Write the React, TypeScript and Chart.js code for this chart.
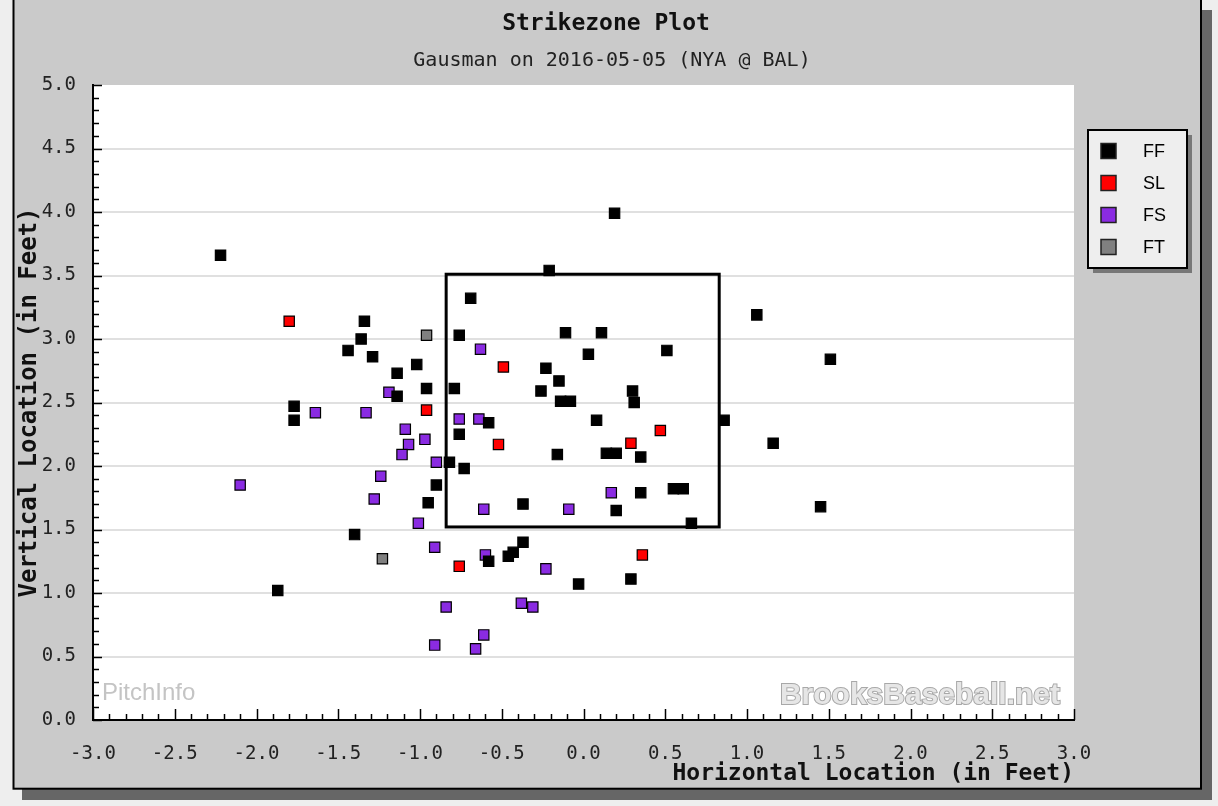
import { useEffect, useRef } from "react";
import { Chart, registerables } from "chart.js";

Chart.register(...registerables);

const TITLE = "Strikezone Plot";
const SUBTITLE = "Gausman on 2016-05-05 (NYA @ BAL)";
const X_TITLE = "Horizontal Location (in Feet)";
const Y_TITLE = "Vertical Location (in Feet)";

// Pitch types
const PITCH_TYPES = ["FF", "SL", "FS", "FT"];
const PITCH_COLORS = ["#000000", "#ff0000", "#8a2be2", "#808080"];

// FF (four-seam fastball)
const ffX = [
  -2.22, 0.19, -0.21, -0.69, -1.34, -1.36, -1.44, -1.29, -0.76, -0.11,
  0.11, -1.02, -1.14, -0.96, -1.14, -0.79, -1.77, -1.77, 0.51, 0.03,
  -0.23, -0.15, -0.26, 0.3, 0.31, -0.14, -0.08, 0.08, -0.58, -0.76,
  -0.16, 0.14, 0.2, 0.35, -0.82, -0.73, -0.9, -0.95, -0.37, 0.2,
  0.35, 0.55, 0.61, 0.66, 1.06, 1.51, 0.86, 1.16, 1.45, -1.4,
  -1.87, -0.37, -0.43, -0.46, -0.58, -0.03, 0.29,
];
const ffY = [
  3.66, 3.99, 3.54, 3.32, 3.14, 3.0, 2.91, 2.86, 3.03, 3.05,
  3.05, 2.8, 2.73, 2.61, 2.55, 2.61, 2.47, 2.36, 2.91, 2.88,
  2.77, 2.67, 2.59, 2.59, 2.5, 2.51, 2.51, 2.36, 2.34, 2.25,
  2.09, 2.1, 2.1, 2.07, 2.03, 1.98, 1.85, 1.71, 1.7, 1.65,
  1.79, 1.82, 1.82, 1.55, 3.19, 2.84, 2.36, 2.18, 1.68, 1.46,
  1.02, 1.4, 1.32, 1.29, 1.25, 1.07, 1.11,
];

// SL (slider)
const slX = [-1.8, -0.49, -0.96, -0.52, 0.29, 0.47, -0.76, 0.36];
const slY = [3.14, 2.78, 2.44, 2.17, 2.18, 2.28, 1.21, 1.3];

// FS (splitter)
const fsX = [
  -0.63, -1.19, -1.64, -1.33, -0.76, -0.64, -1.09, -0.97, -1.07, -1.11,
  -0.9, -1.24, -2.1, -1.28, -1.01, -0.61, -0.09, 0.17, -0.91, -0.6,
  -0.23, -0.84, -0.38, -0.31, -0.61, -0.91, -0.66,
];
const fsY = [
  2.92, 2.58, 2.42, 2.42, 2.37, 2.37, 2.29, 2.21, 2.17, 2.09,
  2.03, 1.92, 1.85, 1.74, 1.55, 1.66, 1.66, 1.79, 1.36, 1.3,
  1.19, 0.89, 0.92, 0.89, 0.67, 0.59, 0.56,
];

// FT (two-seam fastball)
const ftX = [-0.96, -1.23];
const ftY = [3.03, 1.27];

// Strike zone (feet): left, right, bottom, top
const ZONE_X = [-0.84, 0.83];
const ZONE_Y = [1.52, 3.51];

// Axis ranges and ticks
const X_RANGE = [-3, 3];
const Y_RANGE = [0, 5];
const MAJOR_STEP = 0.5;
const MINOR_STEP = 0.1;

const MONO = '"DejaVu Sans Mono", monospace';
const SANS = '"Liberation Sans", Arial, sans-serif';

const toPoints = (xs: number[], ys: number[]) => xs.map((x, i) => ({ x, y: ys[i] }));

const framePlugin = {
  id: "frame",
  beforeDraw(chart: any) {
    const { ctx, width, height, chartArea: a } = chart;
    ctx.save();
    ctx.fillStyle = "#eeeeee";
    ctx.fillRect(0, 0, width, height);
    ctx.fillStyle = "#666666";
    ctx.fillRect(22, 10, 1190, 790);
    ctx.fillStyle = "#cacaca";
    ctx.fillRect(13, -2, 1188, 791);
    ctx.strokeStyle = "#000";
    ctx.lineWidth = 2;
    ctx.strokeRect(13.5, -1, 1187.5, 789.7);
    ctx.fillStyle = "#ffffff";
    ctx.fillRect(a.left, a.top, a.right - a.left, a.bottom - a.top);
    ctx.restore();
  },
  beforeDatasetsDraw(chart: any) {
    const { ctx, chartArea: a, scales } = chart;
    const xs = scales.x;
    const ys = scales.y;
    ctx.save();
    // watermarks
    ctx.font = `24px ${SANS}`;
    ctx.fillStyle = "#c4c4c4";
    ctx.textBaseline = "alphabetic";
    ctx.textAlign = "left";
    ctx.fillText("PitchInfo", a.left + 9, a.bottom - 20);
    ctx.font = `bold 30px ${SANS}`;
    ctx.textAlign = "right";
    ctx.lineWidth = 2;
    ctx.strokeStyle = "#a8a8a8";
    ctx.strokeText("BrooksBaseball.net", a.right - 14, a.bottom - 16);
    ctx.fillStyle = "#e6e6e6";
    ctx.fillText("BrooksBaseball.net", a.right - 14, a.bottom - 16);

    // inward ticks
    ctx.strokeStyle = "#000";
    ctx.lineWidth = 1.5;
    const nx = Math.round((X_RANGE[1] - X_RANGE[0]) / MINOR_STEP);
    for (let i = 0; i <= nx; i++) {
      const v = X_RANGE[0] + i * MINOR_STEP;
      const major = i % Math.round(MAJOR_STEP / MINOR_STEP) === 0;
      const px = Math.round(xs.getPixelForValue(v)) + 0.5;
      ctx.beginPath();
      ctx.moveTo(px, a.bottom);
      ctx.lineTo(px, a.bottom - (major ? 11 : 6));
      ctx.stroke();
    }
    const ny = Math.round((Y_RANGE[1] - Y_RANGE[0]) / MINOR_STEP);
    for (let i = 0; i <= ny; i++) {
      const v = Y_RANGE[0] + i * MINOR_STEP;
      const major = i % Math.round(MAJOR_STEP / MINOR_STEP) === 0;
      const py = Math.round(ys.getPixelForValue(v)) + 0.5;
      ctx.beginPath();
      ctx.moveTo(a.left, py);
      ctx.lineTo(a.left + (major ? 9 : 6), py);
      ctx.stroke();
    }

    // strike zone
    const l = xs.getPixelForValue(ZONE_X[0]);
    const r = xs.getPixelForValue(ZONE_X[1]);
    const b = ys.getPixelForValue(ZONE_Y[0]);
    const t = ys.getPixelForValue(ZONE_Y[1]);
    ctx.strokeStyle = "#000";
    ctx.lineWidth = 3;
    ctx.strokeRect(l, t, r - l, b - t);
    ctx.restore();
  },
  afterDraw(chart: any) {
    const { ctx } = chart;
    ctx.save();
    ctx.fillStyle = "#111";
    ctx.textAlign = "center";
    ctx.textBaseline = "alphabetic";
    ctx.font = `bold 23px ${MONO}`;
    ctx.fillText(TITLE, 606, 29.5);
    ctx.font = `20px ${MONO}`;
    ctx.fillStyle = "#222";
    ctx.fillText(SUBTITLE, 612, 66);

    // legend
    const lx = 1088, ly = 130, lw = 99, lh = 138;
    ctx.fillStyle = "#777777";
    ctx.fillRect(lx + 5, ly + 5, lw, lh);
    ctx.fillStyle = "#eeeeee";
    ctx.fillRect(lx, ly, lw, lh);
    ctx.strokeStyle = "#000";
    ctx.lineWidth = 2;
    ctx.strokeRect(lx, ly, lw, lh);
    ctx.font = `18px ${SANS}`;
    ctx.textAlign = "left";
    ctx.textBaseline = "middle";
    chart.data.datasets.forEach((ds: any, i: number) => {
      const cy = 151 + 32 * i;
      ctx.fillStyle = ds.backgroundColor;
      ctx.fillRect(1101, cy - 7.5, 15, 15);
      ctx.strokeStyle = "#222";
      ctx.lineWidth = 1.5;
      ctx.strokeRect(1101, cy - 7.5, 15, 15);
      ctx.fillStyle = "#000";
      ctx.fillText(ds.label, 1143, cy + 1);
    });
    ctx.restore();
  },
};

export default function App() {
  const ref = useRef<HTMLCanvasElement | null>(null);

  useEffect(() => {
    if (!ref.current) return;
    const series = [
      toPoints(ffX, ffY),
      toPoints(slX, slY),
      toPoints(fsX, fsY),
      toPoints(ftX, ftY),
    ];
    const chart = new Chart(ref.current, {
      type: "scatter",
      data: {
        datasets: PITCH_TYPES.map((label, i) => ({
          label,
          data: series[i],
          backgroundColor: PITCH_COLORS[i],
          borderColor: "#000",
          borderWidth: 1.2,
          pointStyle: "rect",
          pointRadius: 7.3,
        })),
      },
      options: {
        responsive: false,
        animation: false,
        devicePixelRatio: 1,
        events: [],
        layout: { padding: { left: 12, right: 144, top: 85, bottom: 16 } },
        plugins: {
          legend: { display: false },
          title: { display: false },
          tooltip: { enabled: false },
        },
        scales: {
          x: {
            type: "linear",
            position: "bottom",
            min: X_RANGE[0],
            max: X_RANGE[1],
            ticks: {
              stepSize: MAJOR_STEP,
              padding: 23,
              color: "#222",
              autoSkip: false,
              maxRotation: 0,
              font: { family: MONO, size: 19 },
              callback: (v: any) => Number(v).toFixed(1),
            },
            grid: { display: false, drawTicks: false },
            border: { display: true, color: "#000", width: 2 },
            title: {
              display: true,
              text: X_TITLE,
              align: "end",
              color: "#111",
              font: { family: MONO, size: 23, weight: "bold" },
              padding: { top: 0, bottom: 2 },
            },
            afterFit: (s: any) => {
              s.height = 70;
            },
          },
          y: {
            type: "linear",
            min: Y_RANGE[0],
            max: Y_RANGE[1],
            ticks: {
              stepSize: MAJOR_STEP,
              padding: 17,
              color: "#222",
              font: { family: MONO, size: 19 },
              callback: (v: any) => Number(v).toFixed(1),
            },
            grid: {
              drawTicks: false,
              lineWidth: 2,
              color: (c: any) =>
                c.tick && c.tick.value > Y_RANGE[0] && c.tick.value < Y_RANGE[1]
                  ? "#e0e0e0"
                  : "rgba(0,0,0,0)",
            },
            border: { display: true, color: "#000", width: 2 },
            title: {
              display: true,
              text: Y_TITLE,
              color: "#111",
              font: { family: MONO, size: 24, weight: "bold" },
              padding: { top: 3, bottom: 0 },
            },
            afterFit: (s: any) => {
              s.width = 81;
            },
          },
        },
      } as any,
      plugins: [framePlugin],
    });
    return () => chart.destroy();
  }, []);

  return (
    <div style={{ position: "absolute", left: 0, top: 0, width: 1218, height: 806 }}>
      <canvas ref={ref} width={1218} height={806} style={{ display: "block" }} />
    </div>
  );
}
